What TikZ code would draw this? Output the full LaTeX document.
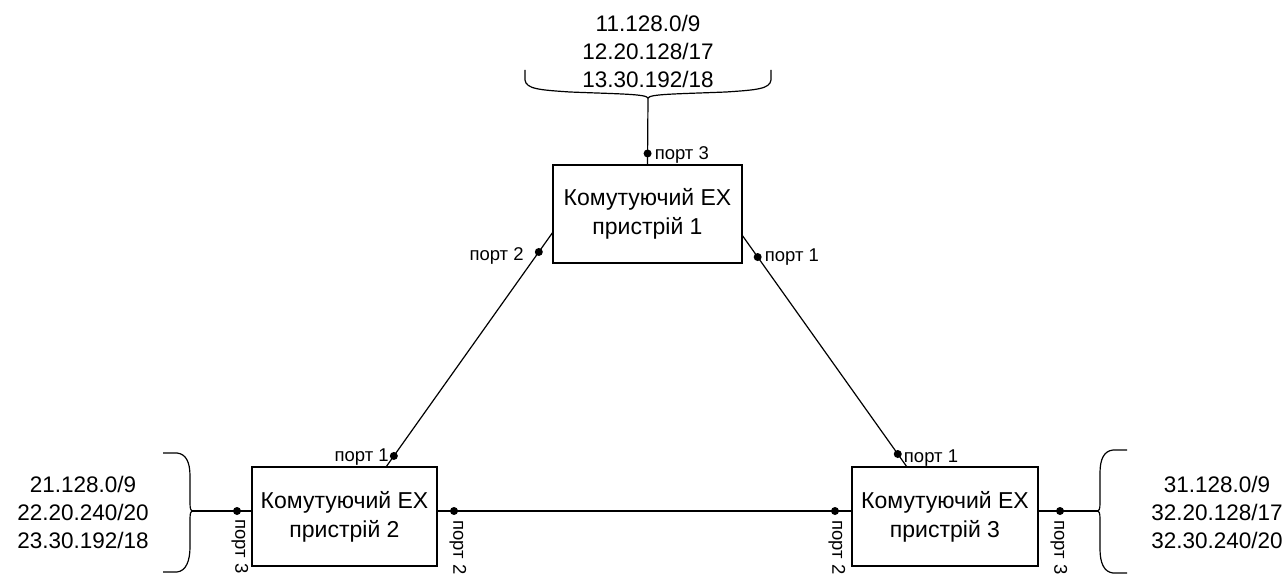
\documentclass[tikz,border=0pt]{standalone}
\usepackage{fontspec}
\setmainfont{Liberation Sans}
\begin{document}
\begin{tikzpicture}[x=1pt,y=-1pt,
  line width=1.2pt,
  box/.style={draw, line width=1.3pt, inner sep=0pt, align=center,
    font=\fontsize{23}{29}\selectfont},
  iptext/.style={align=center, inner sep=0pt, font=\fontsize{22.5}{28}\selectfont},
  portlbl/.style={inner sep=0pt, font=\fontsize{18.5}{20}\selectfont},
  dot/.style={circle, fill=black, inner sep=0pt, minimum size=8pt},
  brace/.style={line width=1.2pt}]
\useasboundingbox (0,0) rectangle (1286,578);

% boxes
\node[box, minimum width=189pt, minimum height=98pt] (b1) at (647.5,214) {Комутуючий ЕХ\\пристрій 1};
\node[box, minimum width=185pt, minimum height=99pt] (b2) at (344.5,516.5) {Комутуючий ЕХ\\пристрій 2};
\node[box, minimum width=186pt, minimum height=99pt] (b3) at (945,516.5) {Комутуючий ЕХ\\пристрій 3};

% address texts
\node[iptext] (ip1) at (648,51) {11.128.0/9\\12.20.128/17\\13.30.192/18};
\node[iptext] (ip2) at (83,512) {21.128.0/9\\22.20.240/20\\23.30.192/18};
\node[iptext] (ip3) at (1217,512) {31.128.0/9\\32.20.128/17\\32.30.240/20};

% brace cusps and line end points
\coordinate (ct) at (648,98);
\coordinate (cl) at (192,511);
\coordinate (cr) at (1098,511);
\coordinate (a1) at (553,232);
\coordinate (a2) at (386,467);
\coordinate (r1) at (742,235);
\coordinate (r3) at (907,467);
\coordinate (h2) at (437,511);
\coordinate (h3) at (852,511);
\coordinate (l2) at (252,511);
\coordinate (e3) at (1038,511);

% braces
\draw[brace] (525,70) -- (525,80) .. controls (526,89) and (540,90) .. (570,92)
  .. controls (620,94) and (646,94) .. (ct)
  .. controls (650,94) and (676,94) .. (726,92)
  .. controls (756,90) and (770,89) .. (771,80) -- (771,70);
\draw[brace] (163,453) -- (177,453) .. controls (186,454) and (190,462) .. (190,476)
  -- (190,503) .. controls (190,509) and (191,511) .. (cl)
  .. controls (191,511) and (190,513) .. (190,519)
  -- (190,547) .. controls (190,561) and (186,571) .. (177,572) -- (163,572);
\draw[brace] (1127,450) -- (1113,450) .. controls (1104,451) and (1100,459) .. (1100,473)
  -- (1100,503) .. controls (1100,509) and (1099,511) .. (cr)
  .. controls (1099,511) and (1100,513) .. (1100,519)
  -- (1100,549) .. controls (1100,563) and (1104,572) .. (1113,573) -- (1127,573);

% connectors with port dots
\draw (ct) -- (b1.north) node[dot, pos=0.836] (p13) {};
\draw (a2) -- (a1) node[dot, pos=0.047] (p21) {} node[dot, pos=0.915] (p12) {};
\draw (r1) -- (r3) node[dot, pos=0.095] (p11) {} node[dot, pos=0.944] (p31) {};
\draw (h2) -- (h3) node[dot, pos=0.041] (p22) {} node[dot, pos=0.959] (p32) {};
\draw (cl) -- (l2) node[dot, pos=0.75] (p23) {};
\draw (e3) -- (cr) node[dot, pos=0.367] (p33) {};

% port labels
\node[portlbl, anchor=west] (t13) at ([xshift=2pt,yshift=-1pt]p13.east) {порт 3};
\node[portlbl, anchor=east] (t12) at ([xshift=-10pt,yshift=-4pt]p12.west) {порт 2};
\node[portlbl, anchor=west] (t11) at ([xshift=2pt]p11.east) {порт 1};
\node[portlbl, anchor=east] (t21) at ([xshift=0pt,yshift=-1pt]p21.west) {порт 1};
\node[portlbl, anchor=west] (t31) at ([xshift=1pt,yshift=-4pt]p31.east) {порт 1};
\node[portlbl, anchor=west, rotate=-90] (t23) at (240,519) {порт 3};
\node[portlbl, anchor=west, rotate=-90] (t22) at (458,520) {порт 2};
\node[portlbl, anchor=west, rotate=-90] (t32) at (837,520) {порт 2};
\node[portlbl, anchor=west, rotate=-90] (t33) at (1059,520) {порт 3};
\end{tikzpicture}
\end{document}
